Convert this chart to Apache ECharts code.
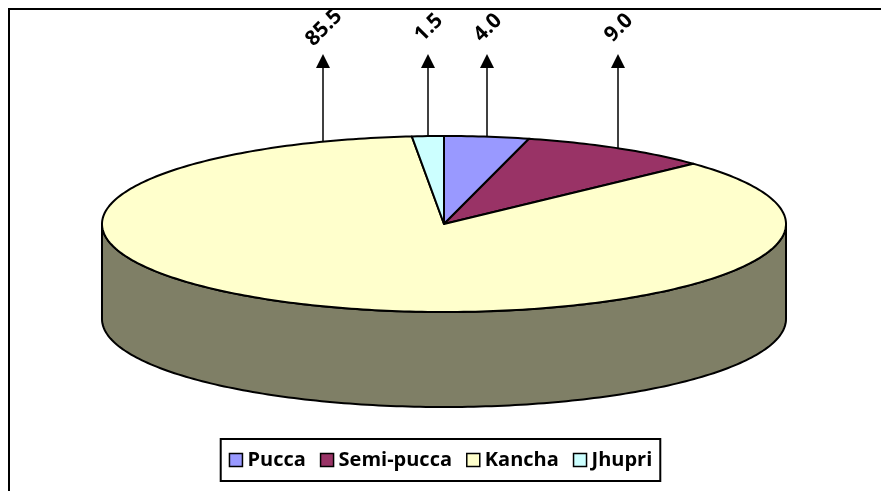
<!DOCTYPE html>
<html>
<head>
<meta charset="utf-8">
<style>
  html, body { margin: 0; padding: 0; background: #fff; }
  #chart { width: 881px; height: 491px; }
</style>
<script src="https://cdn.jsdelivr.net/npm/echarts@6/dist/echarts.min.js"></script>
</head>
<body>
<div id="chart"></div>
<script>
// housing type shares (%)
const categories = ['Pucca', 'Semi-pucca', 'Kancha', 'Jhupri']
const values = [4.0, 9.0, 85.5, 1.5]
const colors = ['#9999FF', '#993366', '#FFFFCC', '#CCFFFF']

// pie geometry (pixels)
const CX = 444
const CY = 224
const RX = 342
const RY = 88
const DEPTH = 95
const ARROW_TIP = 54

const total = values.reduce((a, b) => a + b, 0)

function pt(t, dy) {
  const r = t * Math.PI / 180
  return [CX + RX * Math.sin(r), CY - RY * Math.cos(r) + (dy || 0)]
}

function arc(a0, a1, dy) {
  const pts = []
  const n = Math.max(2, Math.ceil(Math.abs(a1 - a0)))
  for (let i = 0; i <= n; i++) {
    pts.push(pt(a0 + (a1 - a0) * i / n, dy))
  }
  return pts
}

function darker(hex) {
  const n = parseInt(hex.slice(1), 16)
  const r = ((n >> 16) & 255) >> 1
  const g = ((n >> 8) & 255) >> 1
  const b = (n & 255) >> 1
  return 'rgb(' + r + ',' + g + ',' + b + ')'
}

function makeRenderItem(idx) {
  return function(params, api) {
    const before = values.slice(0, idx).reduce((a, b) => a + b, 0)
    const a0 = before / total * 360
    const a1 = (before + api.value(0)) / total * 360
    const children = []

    // side wall (front half only: 90..270 deg clockwise from top)
    const s = Math.max(a0, 90)
    const e = Math.min(a1, 270)
    if (e > s) {
      const pts = arc(s, e, 0).concat(arc(e, s, DEPTH))
      children.push({
        type: 'polygon',
        shape: { points: pts },
        style: { fill: darker(colors[idx]), stroke: '#000', lineWidth: 2, lineJoin: 'round' }
      })
    }

    // top face
    children.push({
      type: 'polygon',
      shape: { points: [[CX, CY]].concat(arc(a0, a1, 0)) },
      style: { fill: colors[idx], stroke: '#000', lineWidth: 2, lineJoin: 'round' }
    })

    // arrow + label: mid angle, mirrored onto the back edge when it faces front
    let mid = (a0 + a1) / 2
    if (mid > 90 && mid < 270) mid = 180 - mid
    const base = pt(mid, 0)
    const x = Math.round(base[0])
    children.push({
      type: 'line',
      shape: { x1: x, y1: base[1], x2: x, y2: ARROW_TIP + 12 },
      style: { stroke: '#000', lineWidth: 1.5 }
    })
    children.push({
      type: 'polygon',
      shape: { points: [[x, ARROW_TIP], [x - 7, ARROW_TIP + 14], [x + 7, ARROW_TIP + 14]] },
      style: { fill: '#000' }
    })
    children.push({
      type: 'text',
      x: x + 1,
      y: ARROW_TIP - 26,
      rotation: Math.PI / 4,
      style: {
        text: api.value(0).toFixed(1),
        fill: '#000',
        fontSize: 21,
        fontWeight: 'bold',
        fontFamily: 'Open Sans',
        align: 'center',
        verticalAlign: 'middle'
      }
    })

    return { type: 'group', children: children }
  }
}

const chart = echarts.init(document.getElementById('chart'))

chart.setOption({
  animation: false,
  backgroundColor: '#fff',
  graphic: [{
    type: 'polyline',
    shape: { points: [[9, 491], [9, 9], [881, 9]] },
    style: { stroke: '#000', lineWidth: 2, fill: null }
  }],
  legend: {
    data: categories,
    left: 'center',
    top: 439,
    padding: [11, 8, 11, 8],
    borderColor: '#000',
    borderWidth: 2,
    itemWidth: 13,
    itemHeight: 13,
    itemGap: 14,
    icon: 'rect',
    itemStyle: { borderColor: '#000', borderWidth: 1.5 },
    textStyle: { color: '#000', fontSize: 20, fontWeight: 'bold', fontFamily: 'Open Sans' }
  },
  series: categories.map((name, i) => ({
    name: name,
    type: 'custom',
    coordinateSystem: 'none',
    itemStyle: { color: colors[i] },
    renderItem: makeRenderItem(i),
    data: [[values[i]]]
  }))
})
</script>
</body>
</html>
